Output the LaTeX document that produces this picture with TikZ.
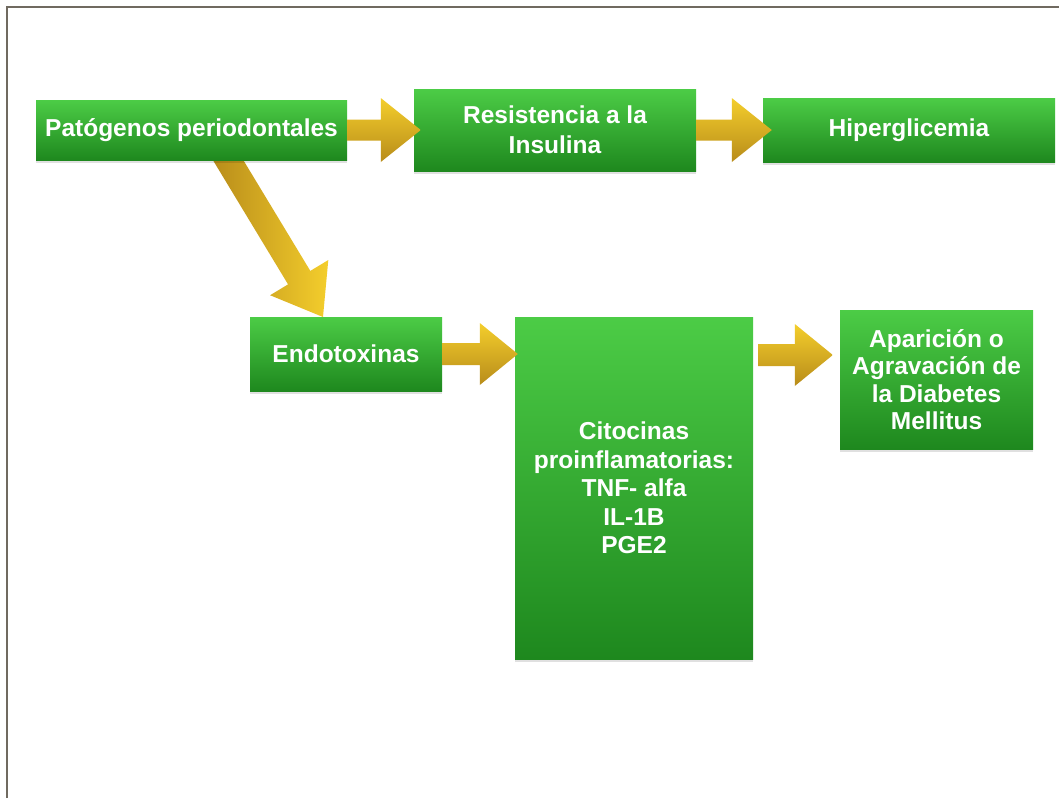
\documentclass[tikz,border=0pt]{standalone}
\usepackage{fontspec}
\setmainfont{Liberation Sans}
\usetikzlibrary{calc,shadows}

\definecolor{boxtop}{RGB}{76,204,70}
\definecolor{boxbot}{RGB}{30,136,30}
\definecolor{goldlight}{RGB}{244,206,44}
\definecolor{golddark}{RGB}{184,140,26}
\definecolor{framegray}{RGB}{112,106,96}

% Block arrow: #1 start, #2 tip, #3 shaft half width, #4 head half width,
% #5 head length, #6 fill/shading options
\newcommand\goldarrow[6]{%
  \coordinate (hb) at ($(#2)!#5!(#1)$);
  \path[#6] ($(#1)!#3!90:(#2)$) -- ($(hb)!#3!90:(#2)$) -- ($(hb)!#4!90:(#2)$)
    -- (#2) -- ($(hb)!#4!-90:(#2)$) -- ($(hb)!#3!-90:(#2)$)
    -- ($(#1)!#3!-90:(#2)$) -- cycle;
}

\tikzset{
  box/.style={rectangle, inner sep=0pt, top color=boxtop, bottom color=boxbot,
    text=white, align=center, font=\fontsize{24.5}{27.5}\selectfont\bfseries,
    drop shadow={shadow xshift=0pt, shadow yshift=-2.5pt, opacity=0.12, fill=black}},
  hshade/.style={top color=goldlight, bottom color=golddark},
  dshade/.style={left color=golddark, right color=goldlight},
}

\begin{document}
\begin{tikzpicture}[x=1pt, y=-1pt]
  \useasboundingbox (0,0) rectangle (1059,798);
  \fill[white] (0,0) rectangle (1059,798);

  % frame, open at right and bottom
  \draw[framegray, line width=2pt] (7,798) -- (7,7) -- (1059,7);

  % diagonal arrow runs underneath the first box
  \coordinate (a3s) at (222,150);
  \coordinate (a3t) at (323,317);
  \goldarrow{a3s}{a3t}{13pt}{34pt}{46pt}{dshade}

  % boxes
  \node[box, minimum width=311pt, minimum height=60pt] (pat) at (191.5,130)
    {Patógenos periodontales};
  \node[box, minimum width=282pt, minimum height=82pt,
        font=\fontsize{24.5}{30}\selectfont\bfseries] (res) at (555,130)
    {Resistencia a la\\Insulina};
  \node[box, minimum width=292pt, minimum height=64pt] (hip) at (909,130)
    {Hiperglicemia};
  \node[box, minimum width=192pt, minimum height=74pt] (endo) at (346,354)
    {Endotoxinas};
  \node[box, minimum width=238pt, minimum height=342pt,
        font=\fontsize{24.5}{28.5}\selectfont\bfseries] (cit) at (634,488)
    {Citocinas\\proinflamatorias:\\TNF- alfa\\IL-1B\\PGE2};
  \node[box, minimum width=193pt, minimum height=139pt] (apa) at (936.5,379.5)
    {Aparición o\\Agravación de\\la Diabetes\\Mellitus};

  % horizontal arrows
  \coordinate (a1s) at (pat.east);
  \coordinate (a1t) at ([xshift=7pt]res.west);
  \goldarrow{a1s}{a1t}{10.5pt}{32pt}{40pt}{hshade}

  \coordinate (a2s) at (res.east);
  \coordinate (a2t) at ([xshift=9pt]hip.west);
  \goldarrow{a2s}{a2t}{10.5pt}{32pt}{40pt}{hshade}

  \coordinate (a4s) at (endo.east);
  \coordinate (a4t) at ([xshift=3pt]cit.west |- endo.east);
  \goldarrow{a4s}{a4t}{11pt}{31pt}{38pt}{hshade}

  \coordinate (a5s) at ([xshift=5pt]cit.east |- 0,355);
  \coordinate (a5t) at ([xshift=-7pt]apa.west |- a5s);
  \goldarrow{a5s}{a5t}{11pt}{31pt}{38pt}{hshade}
\end{tikzpicture}
\end{document}
